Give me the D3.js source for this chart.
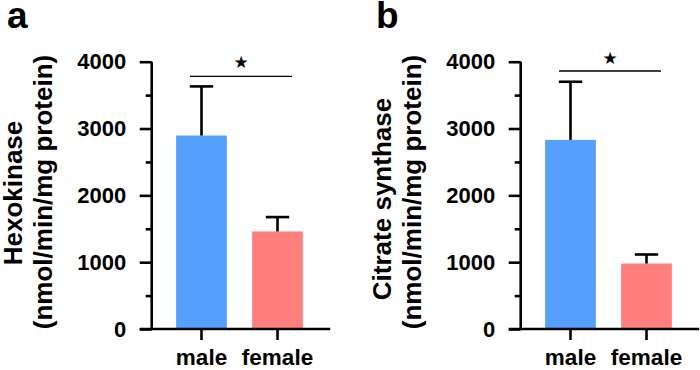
<!DOCTYPE html>
<html>
<head>
<meta charset="utf-8">
<script src="https://cdn.jsdelivr.net/npm/d3@7"></script>
<style>
  html, body { margin: 0; padding: 0; background: #fff; }
  svg { display: block; }
  text { font-family: "Liberation Sans", Arial, Helvetica, sans-serif; font-weight: bold; fill: #000; }
</style>
</head>
<body>
<svg id="chart" width="700" height="370"></svg>
<script>
// ---- data ----
const categories = ["male", "female"];
const yTicks = [0, 1000, 2000, 3000, 4000];
const yMinorTicks = [500, 1500, 2500, 3500];
const panelLetters = ["a", "b"];
const yTitles = ["Hexokinase", "Citrate synthase"];
const yUnits = "(nmol/min/mg protein)";
const hexokinaseMean = [2895, 1460];
const hexokinaseSD = [735, 215];
const citrateMean = [2830, 980];
const citrateSD = [870, 135];
const colors = ["#559FFD", "#FF7E7E"];

const svg = d3.select("#chart");

const panels = [
  { letter: panelLetters[0], title: yTitles[0], mean: hexokinaseMean, sd: hexokinaseSD, dx: 0, sigY: 76.3, starY: 68, titleCy: 193 },
  { letter: panelLetters[1], title: yTitles[1], mean: citrateMean, sd: citrateSD, dx: 369, sigY: 71, starY: 63.5, titleCy: 199 }
];

const axisX = 151.7;
const y = d3.scaleLinear().domain([0, 4000]).range([329, 61.7]);
const x = d3.scaleBand().domain(categories)
  .range([axisX + 11.8, axisX + 163.8]).paddingInner(0.333).paddingOuter(0.1665);

panels.forEach(p => {
  const g = svg.append("g").attr("transform", `translate(${p.dx},0)`);

  // panel letter
  g.append("text").attr("x", 7).attr("y", 28).style("font-size", "37px").text(p.letter);

  // y titles
  g.append("text").attr("transform", `translate(${axisX - 129.5},${p.titleCy}) rotate(-90)`)
    .attr("text-anchor", "middle").style("font-size", "26px").text(p.title);
  g.append("text").attr("transform", `translate(${axisX - 100},192) rotate(-90)`)
    .attr("text-anchor", "middle").style("font-size", "26px").text(yUnits);

  // bars
  g.selectAll("rect.bar").data(categories).enter().append("rect")
    .attr("x", d => x(d)).attr("width", x.bandwidth())
    .attr("y", (d, i) => y(p.mean[i]))
    .attr("height", (d, i) => y(0) - y(p.mean[i]))
    .attr("fill", (d, i) => colors[i]);

  // error bars (upper only)
  const cap = 11.7;
  categories.forEach((c, i) => {
    const cx = x(c) + x.bandwidth() / 2;
    g.append("line").attr("x1", cx).attr("x2", cx)
      .attr("y1", y(p.mean[i])).attr("y2", y(p.mean[i] + p.sd[i]))
      .attr("stroke", "#000").attr("stroke-width", 2.6);
    g.append("line").attr("x1", cx - cap).attr("x2", cx + cap)
      .attr("y1", y(p.mean[i] + p.sd[i])).attr("y2", y(p.mean[i] + p.sd[i]))
      .attr("stroke", "#000").attr("stroke-width", 2.6);
  });

  // y axis major
  const yAxis = g.append("g").attr("transform", `translate(${axisX},0)`)
    .call(d3.axisLeft(y).tickValues(yTicks).tickSize(12).tickSizeOuter(0).tickPadding(13.5).tickFormat(d3.format("d")));
  yAxis.selectAll("path,line").attr("stroke", "#000").attr("stroke-width", 2.6);
  yAxis.selectAll("text").style("font-size", "22px").style("font-family", "'Liberation Sans', Arial, sans-serif").style("font-weight", "bold");
  yAxis.select(".domain").attr("d", `M0,${y(0)}V${y(4000)}`);
  // minor ticks
  const yMinor = g.append("g").attr("transform", `translate(${axisX},0)`)
    .call(d3.axisLeft(y).tickValues(yMinorTicks).tickSize(6).tickFormat(""));
  yMinor.select(".domain").remove();
  yMinor.selectAll("line").attr("stroke", "#000").attr("stroke-width", 2.6);

  // x axis
  const xAxis = g.append("g").attr("transform", `translate(0,${y(0)})`)
    .call(d3.axisBottom(x).tickSize(11).tickSizeOuter(0).tickPadding(9));
  xAxis.select(".domain").attr("d", `M${axisX - 12},0H${axisX + 178.5}`);
  xAxis.selectAll("path,line").attr("stroke", "#000").attr("stroke-width", 2.6);
  xAxis.selectAll("text").style("font-size", "22.5px").style("font-family", "'Liberation Sans', Arial, sans-serif").style("font-weight", "bold");

  // significance line and star
  const x1 = x(categories[0]) + x.bandwidth() / 2 - 11.5;
  const x2 = x(categories[1]) + x.bandwidth() / 2 + 14.5;
  g.append("line").attr("x1", x1).attr("x2", x2).attr("y1", p.sigY).attr("y2", p.sigY)
    .attr("stroke", "#000").attr("stroke-width", 1.3);
  g.append("text").attr("x", (x1 + x2) / 2).attr("y", p.starY)
    .attr("text-anchor", "middle").style("font-family", "'DejaVu Sans', sans-serif")
    .style("font-weight", "normal").style("font-size", "17px").text("★");
});
</script>
</body>
</html>
